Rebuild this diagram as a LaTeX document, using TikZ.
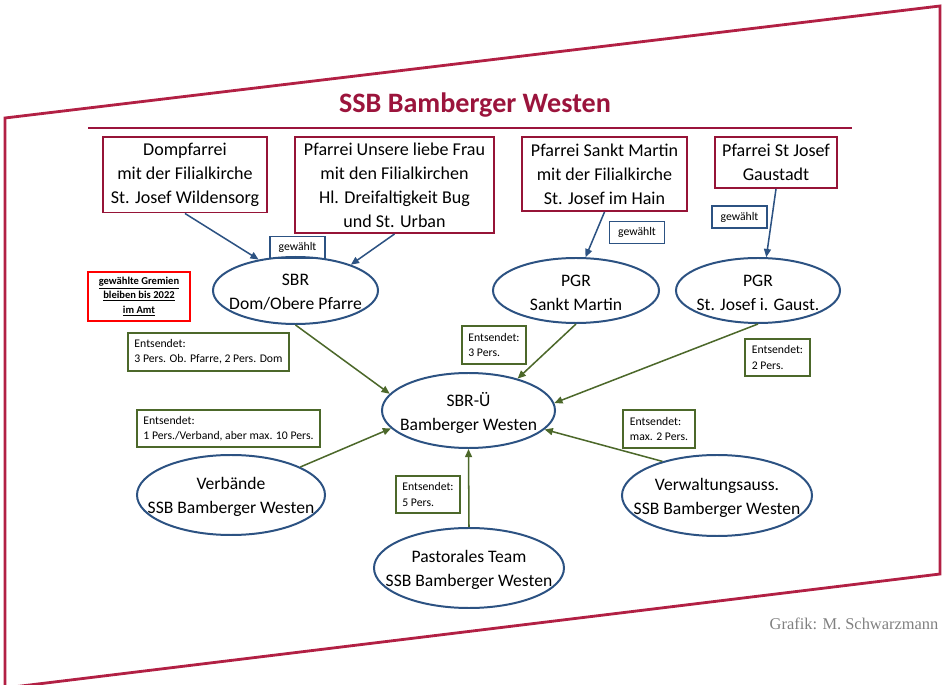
\documentclass[tikz,border=0pt]{standalone}
\usepackage{fontspec}
\setmainfont{Carlito}
\newfontfamily\capfont{Liberation Serif}
\usetikzlibrary{shapes.geometric,arrows.meta}
\definecolor{ssbred}{RGB}{155,20,60}
\definecolor{framered}{RGB}{178,32,68}
\definecolor{boxred}{RGB}{150,20,55}
\definecolor{gremblue}{RGB}{44,82,130}
\definecolor{sendgreen}{RGB}{76,104,42}

\begin{document}
\begin{tikzpicture}[x=0.03cm, y=-0.03cm,
        pfarrei/.style={draw=boxred, line width=1.7pt, align=center, inner sep=2pt, font=\fontsize{15.4}{20.5}\selectfont},
        gremium/.style={ellipse, draw=gremblue, line width=1.7pt, inner sep=0pt},
        gremtext/.style={align=center, yshift=-0.06cm, font=\fontsize{15}{20.5}\selectfont},
        gewaehlt/.style={draw=gremblue, line width=1.5pt, inner sep=0pt, minimum width=1.65cm, minimum height=0.66cm, font=\fontsize{10}{11}\selectfont},
        entsendet/.style={draw=sendgreen, line width=1.6pt, align=left, inner xsep=0.2cm, inner ysep=2pt, minimum height=1.12cm, font=\fontsize{10}{13}\selectfont},
        wahl/.style={gremblue, line width=1.3pt, -{Triangle[length=7pt,width=6pt]}},
        send/.style={sendgreen, line width=1.3pt, -{Triangle[length=7pt,width=6pt]}}]
        \useasboundingbox (0, 0) rectangle (944, 685);
        \draw[framered, line width=2.4pt, line join=miter] (5, 118) -- (940, 6) -- (940, 574) -- (5, 688) -- cycle;
        \node at (475, 105) [text=ssbred, font=\fontsize{24}{28}\selectfont\bfseries] (titel) {SSB Bamberger Westen};
        \draw[ssbred, line width=1.8pt] (88, 128) -- (852, 128);
        \node at (185, 175) [pfarrei, minimum width=4.92cm, minimum height=2.25cm] (dom) {Dompfarrei\\mit der Filialkirche\\St. Josef Wildensorg};
        \node at (394.5, 185) [pfarrei, minimum width=5.97cm, minimum height=2.88cm] (ulf) {Pfarrei Unsere liebe Frau\\mit den Filialkirchen\\Hl. Dreifaltigkeit Bug\\und St. Urban};
        \node at (604.5, 174) [pfarrei, minimum width=4.95cm, minimum height=2.22cm] (sm) {Pfarrei Sankt Martin\\mit der Filialkirche\\St. Josef im Hain};
        \node at (776, 162.5) [pfarrei, minimum width=3.66cm, minimum height=1.53cm] (sj) {Pfarrei St Josef\\Gaustadt};
        \node at (297.5, 247.5) [gewaehlt] (wahla) {gewählt};
        \node at (637, 232.5) [gewaehlt] (wahlb) {gewählt};
        \node at (739.5, 217) [gewaehlt] (wahlc) {gewählt};
        \node at (139, 296.5) [draw=red, line width=1.6pt, align=center, minimum width=3.06cm, minimum height=1.47cm, inner sep=0pt, font=\fontsize{9}{12}\selectfont\bfseries] (hinweis) {\underline{gewählte Gremien}\\\underline{bleiben bis 2022}\\\underline{im Amt}};
        \node at (295.5, 290.5) [gremium, minimum width=4.95cm, minimum height=2.01cm, label={[gremtext]center:SBR\\Dom/Obere Pfarre}] (sbr) {};
        \node at (576, 290.5) [gremium, minimum width=4.98cm, minimum height=1.95cm, label={[gremtext]center:PGR\\Sankt Martin}] (pgrsm) {};
        \node at (758, 290.5) [gremium, minimum width=4.92cm, minimum height=1.95cm, label={[gremtext]center:PGR\\St. Josef i. Gaust.}] (pgrsj) {};
        \node at (468.5, 410.5) [gremium, minimum width=5.19cm, minimum height=2.25cm, label={[gremtext]center:SBR-Ü\\Bamberger Westen}] (sbrue) {};
        \node at (231, 495) [gremium, minimum width=5.64cm, minimum height=2.4cm, label={[gremtext]center:Verbände\\SSB Bamberger Westen}] (verb) {};
        \node at (469, 568) [gremium, minimum width=5.7cm, minimum height=2.4cm, label={[gremtext]center:Pastorales Team\\SSB Bamberger Westen}] (past) {};
        \node at (717, 495.5) [gremium, minimum width=5.7cm, minimum height=2.43cm, label={[gremtext]center:Verwaltungsauss.\\SSB Bamberger Westen}] (verw) {};
        \node at (208.5, 352) [entsendet] (senda) {Entsendet:\\3 Pers. Ob. Pfarre, 2 Pers. Dom};
        \node at (494, 345) [entsendet] (sendb) {Entsendet:\\3 Pers.};
        \node at (777.5, 357.5) [entsendet] (sendc) {Entsendet:\\2 Pers.};
        \node at (228.5, 428.5) [entsendet] (sendd) {Entsendet:\\1 Pers./Verband, aber max. 10 Pers.};
        \node at (659, 429) [entsendet] (sende) {Entsendet:\\max. 2 Pers.};
        \node at (428, 494.5) [entsendet] (sendf) {Entsendet:\\5 Pers.};
        \draw[wahl] (dom.south) -- (sbr.140);
        \draw[wahl] (ulf.south) -- (sbr.25);
        \draw[wahl] (sm.south) -- (pgrsm.74);
        \draw[wahl] (sj.south) -- (pgrsj.76);
        \draw[send] (sbr.south) -- (sbrue.168);
        \draw[send] (pgrsm.south) -- (sbrue.33);
        \draw[send] (pgrsj.south) -- (sbrue.5);
        \draw[send] (verb.22) -- (sbrue.193);
        \draw[send] (past.north) -- (sbrue.south);
        \draw[send] (verw.148) -- (sbrue.346);
        \node at (854, 624) [text=gray, font=\capfont\fontsize{14}{16}\selectfont] (quelle) {Grafik: M. Schwarzmann};
      \end{tikzpicture}
\end{document}
